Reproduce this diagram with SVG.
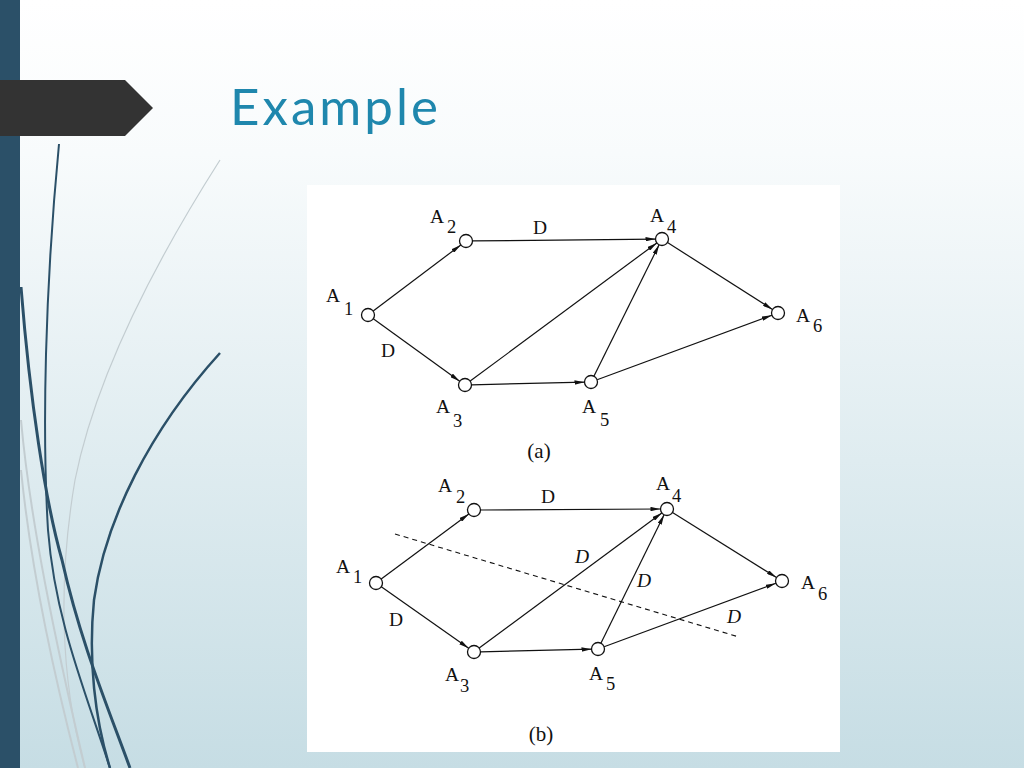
<svg xmlns="http://www.w3.org/2000/svg" width="1024" height="768" viewBox="0 0 1024 768">
<defs>
<linearGradient id="bg" x1="0" y1="0" x2="0" y2="1">
<stop offset="0" stop-color="#ffffff"/>
<stop offset="0.2" stop-color="#f8fbfc"/>
<stop offset="1" stop-color="#c6dde4"/>
</linearGradient>
<marker id="arr" markerUnits="userSpaceOnUse" markerWidth="10" markerHeight="4.4" refX="10" refY="2.2" orient="auto">
<path d="M0,0 L10,2.2 L0,4.4 z" fill="#111"/>
</marker>
<style>
.e{stroke:#111;stroke-width:1.2;fill:none;marker-end:url(#arr)}
.n{fill:#fff;stroke:#111;stroke-width:1.3}
.t{font-family:"Liberation Serif",serif;font-size:19.5px;fill:#111}
.s{font-size:18.5px}
.i{font-style:italic}
.cap{font-family:"Liberation Serif",serif;font-size:21px;fill:#111}
.dk{stroke:#2b5068;fill:none}
.lt{stroke:#c3cdd1;fill:none}
</style>
</defs>
<rect width="1024" height="768" fill="url(#bg)"/>
<g id="decor">
<path class="lt" stroke-width="1.2" d="M220,160 C150,270 95,380 75,480 C58,580 60,680 85,768"/>
<path class="lt" stroke-width="2" d="M21,420 C30,520 55,640 85,768"/>
<path class="lt" stroke-width="2" d="M21,470 C30,560 50,660 78,768"/>
<path class="dk" stroke-width="2" d="M59,144 C45,290 42,430 48,530 C55,620 85,690 110,768"/>
<path class="dk" stroke-width="3" d="M21,287 C30,400 45,500 62,560 C80,640 105,700 130,768"/>
<path class="dk" stroke-width="2.5" d="M220,353 C150,430 105,520 94,600 C88,660 95,720 110,768"/>
</g>
<rect x="0" y="0" width="20" height="768" fill="#2b5068"/>
<path d="M0,80 L125,80 L153,108 L125,136 L0,136 z" fill="#333333"/>
<text x="230" y="125" font-family="Lato, 'Open Sans', sans-serif" font-size="51" fill="#1f87ad" textLength="208">Example</text>
<rect x="307" y="185" width="533" height="567" fill="#ffffff"/>
<g id="connectors">
<path class="e" d="M373.2,311.1 L460.8,244.9"/>
<path class="e" d="M373.3,318.8 L459.7,381.2"/>
<path class="e" d="M472.5,240.9 L655.5,239.1"/>
<path class="e" d="M470.2,381.1 L656.8,242.9"/>
<path class="e" d="M471.5,384.8 L584.5,382.2"/>
<path class="e" d="M593.9,376.2 L659.1,244.8"/>
<path class="e" d="M667.5,242.5 L772.5,309.5"/>
<path class="e" d="M597.1,379.8 L771.9,315.2"/>
<path class="e" d="M381.2,579.1 L468.8,513.9"/>
<path class="e" d="M381.3,586.7 L468.7,648.3"/>
<path class="e" d="M480.5,510 L660.5,509"/>
<path class="e" d="M479.2,648.1 L661.8,512.9"/>
<path class="e" d="M480.5,651.8 L591.5,649.2"/>
<path class="e" d="M600.9,643.2 L664.1,514.8"/>
<path class="e" d="M672.5,512.5 L776.5,577.5"/>
<path class="e" d="M604.1,646.7 L775.9,583.3"/>
<path d="M395,534 L739,637" stroke="#111" stroke-width="1.1" stroke-dasharray="5,4" fill="none"/>
</g>
<g id="edge-labels">
<text class="t" x="533" y="234">D</text>
<text class="t" x="381" y="357">D</text>
<text class="t" x="541" y="503">D</text>
<text class="t" x="389" y="626">D</text>
<text class="t i" x="575" y="563">D</text>
<text class="t i" x="637" y="587">D</text>
<text class="t i" x="727" y="623">D</text>
<text class="cap" x="539" y="458" text-anchor="middle">(a)</text>
<text class="cap" x="541" y="741" text-anchor="middle">(b)</text>
</g>
<g id="a-A1"><circle class="n" cx="368" cy="315" r="6.5"/><text class="t" x="326" y="302">A</text><text class="t s" x="344" y="315">1</text></g>
<g id="a-A2"><circle class="n" cx="466" cy="241" r="6.5"/><text class="t" x="430" y="223">A</text><text class="t s" x="447" y="233">2</text></g>
<g id="a-A3"><circle class="n" cx="465" cy="385" r="6.5"/><text class="t" x="436" y="413">A</text><text class="t s" x="453" y="427">3</text></g>
<g id="a-A4"><circle class="n" cx="662" cy="239" r="6.5"/><text class="t" x="650" y="222">A</text><text class="t s" x="667" y="233">4</text></g>
<g id="a-A5"><circle class="n" cx="591" cy="382" r="6.5"/><text class="t" x="582" y="413">A</text><text class="t s" x="600" y="426">5</text></g>
<g id="a-A6"><circle class="n" cx="778" cy="313" r="6.5"/><text class="t" x="796" y="322">A</text><text class="t s" x="813" y="332">6</text></g>
<g id="b-A1"><circle class="n" cx="376" cy="583" r="6.5"/><text class="t" x="336" y="573">A</text><text class="t s" x="353" y="583">1</text></g>
<g id="b-A2"><circle class="n" cx="474" cy="510" r="6.5"/><text class="t" x="438" y="492">A</text><text class="t s" x="456" y="503">2</text></g>
<g id="b-A3"><circle class="n" cx="474" cy="652" r="6.5"/><text class="t" x="445" y="681">A</text><text class="t s" x="460" y="692">3</text></g>
<g id="b-A4"><circle class="n" cx="667" cy="509" r="6.5"/><text class="t" x="656" y="490">A</text><text class="t s" x="672" y="502">4</text></g>
<g id="b-A5"><circle class="n" cx="598" cy="649" r="6.5"/><text class="t" x="589" y="680">A</text><text class="t s" x="606" y="690">5</text></g>
<g id="b-A6"><circle class="n" cx="782" cy="581" r="6.5"/><text class="t" x="801" y="589">A</text><text class="t s" x="818" y="600">6</text></g>
</svg>
